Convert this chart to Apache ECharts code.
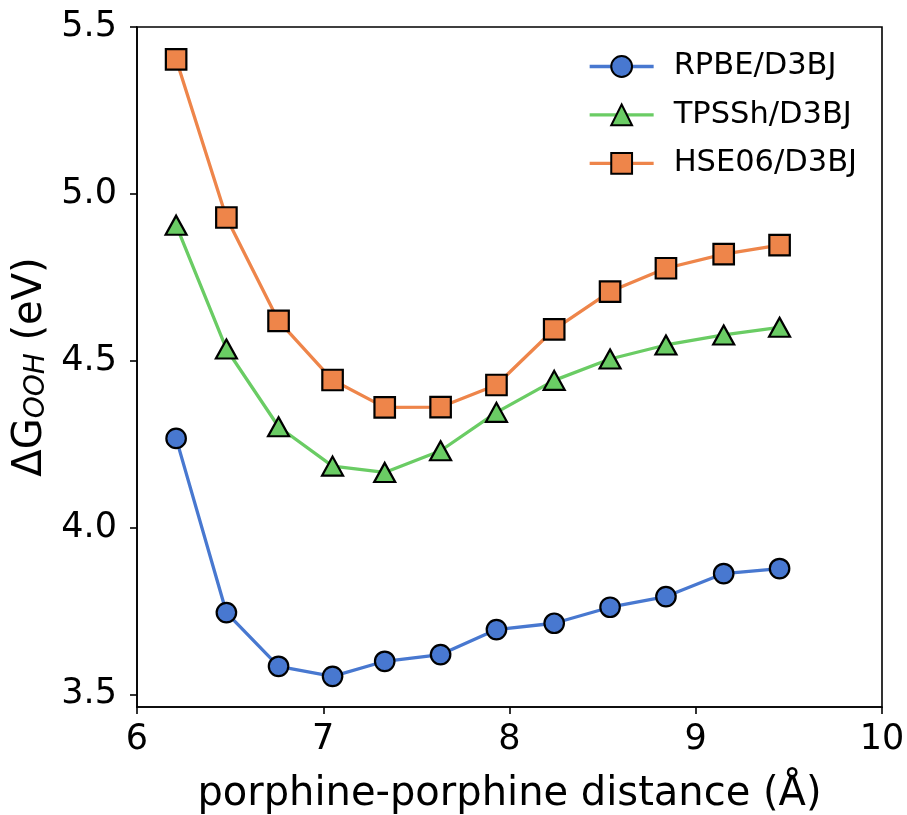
<!DOCTYPE html>
<html>
<head>
<meta charset="utf-8">
<title>ΔG_OOH vs porphine-porphine distance</title>
<script src="https://cdn.jsdelivr.net/npm/echarts@6/dist/echarts.min.js"></script>
<style>
  html, body { margin: 0; padding: 0; background: #fff; }
  #chart { width: 907px; height: 815px; }
</style>
</head>
<body>
<div id="chart"></div>
<script>
// porphine-porphine distance (Å)
const distances = [6.21, 6.48, 6.76, 7.05, 7.33, 7.63, 7.93, 8.24, 8.54, 8.84, 9.15, 9.45];

// ΔG_OOH (eV) for each functional
const rpbe  = [4.267, 3.745, 3.584, 3.554, 3.599, 3.619, 3.694, 3.713, 3.761, 3.793, 3.862, 3.877];
const tpssh = [4.906, 4.535, 4.302, 4.184, 4.165, 4.230, 4.345, 4.441, 4.505, 4.547, 4.577, 4.600];
const hse06 = [5.403, 4.929, 4.619, 4.442, 4.360, 4.361, 4.427, 4.594, 4.707, 4.777, 4.819, 4.846];

const seriesNames = ['RPBE/D3BJ', 'TPSSh/D3BJ', 'HSE06/D3BJ'];
const yTicks = [3.5, 4.0, 4.5, 5.0, 5.5];
const xTicks = [6, 7, 8, 9, 10];

const FONT = 'DejaVu Sans';

function pairs(ys) {
  return distances.map((x, i) => [x, ys[i]]);
}

function makeSeries(name, ys, color, symbol, size) {
  return {
    name: name,
    type: 'line',
    data: pairs(ys),
    symbol: symbol,
    symbolSize: size,
    showAllSymbol: true,
    lineStyle: { color: color, width: 3.3 },
    itemStyle: { color: color, borderColor: '#000', borderWidth: 2.2, opacity: 1 },
    emphasis: { disabled: true },
    animation: false
  };
}

const chart = echarts.init(document.getElementById('chart'), null, { renderer: 'canvas' });

chart.setOption({
  animation: false,
  backgroundColor: '#fff',
  textStyle: { fontFamily: FONT },
  grid: {
    left: 137, right: 25, top: 27, bottom: 108,
    show: true, borderColor: '#000', borderWidth: 1.6,
    containLabel: false,
    outerBoundsMode: 'none'
  },
  legend: {
    data: seriesNames,
    orient: 'vertical',
    left: 583,
    top: 46,
    itemWidth: 64,
    itemHeight: 26,
    itemGap: 17.4,
    lineStyle: { width: 3.3 },
    textStyle: { fontFamily: FONT, fontSize: 30.5, color: '#000', padding: [0, 0, 0, 15] },
    selectedMode: false
  },
  xAxis: {
    type: 'value',
    min: 6, max: 10, interval: 1,
    name: 'porphine-porphine distance (Å)',
    nameLocation: 'middle',
    nameGap: 68,
    nameTextStyle: { fontFamily: FONT, fontSize: 40, color: '#000' },
    axisLine: { show: true, onZero: false, lineStyle: { color: '#000', width: 1.6 } },
    axisTick: { show: true, inside: false, length: 7, lineStyle: { color: '#000', width: 1.6 }, customValues: xTicks },
    axisLabel: { show: true, margin: 15.5, fontFamily: FONT, fontSize: 35, color: '#000', customValues: xTicks },
    splitLine: { show: false }
  },
  yAxis: {
    type: 'value',
    min: 3.462, max: 5.5,
    name: '{a|ΔG}{s|OOH}{a| (eV)}',
    nameLocation: 'middle',
    nameRotate: 90,
    nameGap: 82,
    nameTextStyle: {
      fontFamily: FONT, color: '#000',
      rich: {
        a: { fontFamily: FONT, fontSize: 40, lineHeight: 40, color: '#000' },
        s: { fontFamily: FONT, fontSize: 28, lineHeight: 26, fontStyle: 'italic', verticalAlign: 'bottom', color: '#000' }
      }
    },
    axisLine: { show: true, onZero: false, lineStyle: { color: '#000', width: 1.6 } },
    axisTick: { show: true, inside: false, length: 7, lineStyle: { color: '#000', width: 1.6 }, customValues: yTicks },
    axisLabel: {
      show: true, margin: 20, fontFamily: FONT, fontSize: 35, color: '#000',
      customValues: yTicks,
      formatter: v => Number(v).toFixed(1)
    },
    splitLine: { show: false }
  },
  series: [
    makeSeries(seriesNames[0], rpbe,  '#4878d0', 'circle',   19.5),
    makeSeries(seriesNames[1], tpssh, '#6acc64', 'triangle', [21, 19]),
    makeSeries(seriesNames[2], hse06, '#ee854a', 'rect',     20.5)
  ]
});
</script>
</body>
</html>
